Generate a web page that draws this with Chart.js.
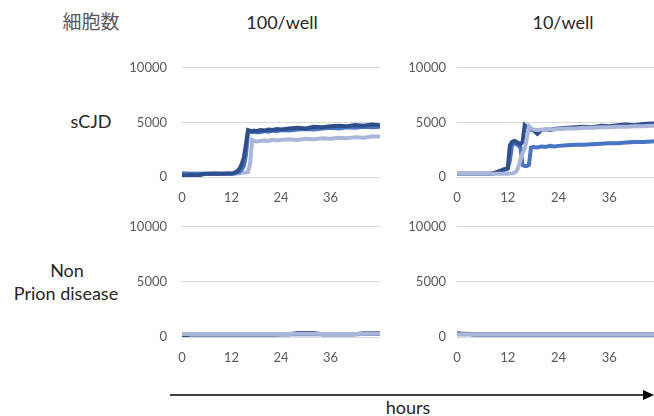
<!DOCTYPE html>
<html>
<head>
<meta charset="utf-8">
<script src="https://cdn.jsdelivr.net/npm/chart.js@4/dist/chart.umd.min.js"></script>
<style>
  html, body { margin: 0; padding: 0; background: #fff; }
  body { width: 654px; height: 416px; position: relative; overflow: hidden; font-family: Lato, sans-serif; }
  canvas { position: absolute; }
  .lbl { position: absolute; transform: translate(-50%, -50%); white-space: nowrap; color: #262626; font-size: 18px; }
</style>
</head>
<body>
<div class="lbl" style="left:91px;top:20px;font-family:'Noto Sans CJK JP';font-size:19px;color:#595959">細胞数</div>
<div class="lbl" style="left:282px;top:22px">100/well</div>
<div class="lbl" style="left:563px;top:22px">10/well</div>
<div class="lbl" style="left:91px;top:121px">sCJD</div>
<div class="lbl" style="left:67px;top:270px">Non</div>
<div class="lbl" style="left:66px;top:293px">Prion disease</div>
<div class="lbl" style="left:408px;top:407px">hours</div>
<svg style="position:absolute;left:0;top:0" width="654" height="416">
  <line x1="170" y1="395" x2="645" y2="395" stroke="#000" stroke-width="1.3"/>
  <polygon points="643,390 654,395 643,400" fill="#000"/>
</svg>

<canvas id="c1" style="left:120px;top:45px"></canvas>
<canvas id="c2" style="left:400px;top:49px"></canvas>
<canvas id="c3" style="left:120px;top:204px"></canvas>
<canvas id="c4" style="left:400px;top:208px"></canvas>

<script>
// time points (hours)
const hours = [0,1,2,3,4,5,6,7,8,9,10,11,12,
  12.5,13,13.5,14,14.5,15,15.5,16,16.5,17,17.5,18,
  19,20,21,22,23,24,
  26,28,30,32,34,36,38,40,42,44,46,48];
const xTicks = [0, 12, 24, 36];
const yTicks = [0, 5000, 10000];

// sCJD, 100/well
const scjd100Dark  = [150,120,180,150,130,250,300,300,310,300,300,310,320,
  350,450,550,800,1200,1800,3000,4300,4250,4200,4250,4200,
  4300,4250,4350,4300,4400,4350,
  4450,4500,4450,4600,4550,4650,4700,4650,4750,4700,4800,4750];
const scjd100Mid   = [300,300,300,300,300,300,300,300,300,300,300,300,300,
  320,350,420,500,700,1000,2000,4100,4150,4100,4150,4100,
  4100,4200,4150,4250,4200,4300,
  4250,4350,4400,4350,4450,4500,4450,4550,4500,4600,4550,4600];
const scjd100Light = [400,350,300,300,300,300,300,300,300,300,300,300,300,
  300,320,330,350,380,400,420,450,1200,3400,3300,3250,
  3300,3350,3300,3400,3350,3400,
  3450,3400,3500,3450,3550,3500,3600,3550,3650,3600,3700,3720];

// sCJD, 10/well
const scjd10Dark  = [300,300,300,300,300,300,300,300,300,400,550,700,800,
  2900,3200,3300,3250,3100,3000,3200,4750,4600,4450,4350,4300,
  3950,4300,4350,4300,4400,4450,
  4500,4550,4600,4550,4700,4650,4750,4800,4750,4850,4900,4900];
const scjd10Mid   = [300,300,300,300,300,300,300,300,300,350,450,600,750,
  1500,2900,3100,3000,2900,2700,1100,1000,1000,1100,2700,2750,
  2700,2800,2750,2850,2800,2850,
  2900,2950,2950,3000,3050,3100,3100,3150,3200,3200,3250,3300];
const scjd10Light = [300,300,300,300,300,300,300,300,300,300,300,300,300,
  310,330,380,500,900,1600,2200,2600,3500,4650,4450,4350,
  4300,4350,4300,4400,4350,4400,
  4450,4450,4500,4500,4550,4550,4600,4600,4650,4650,4700,4700];

// Non prion disease, 100/well
const non100Dark  = [80,150,230,230,230,230,230,230,230,230,230,230,230,
  230,230,230,230,230,230,230,230,230,230,230,230,
  230,230,230,230,230,240,
  250,360,370,360,250,240,240,250,250,340,350,350];
const non100Mid   = [250,250,250,250,250,250,250,250,250,250,250,250,250,
  250,250,250,250,250,250,250,250,250,250,250,250,
  250,250,250,250,250,250,
  250,260,260,260,250,250,250,250,260,270,280,280];
const non100Light = [280,280,270,280,270,280,270,280,270,280,270,280,270,
  280,270,280,270,280,270,280,270,280,270,280,270,
  280,270,280,270,280,270,
  280,290,290,290,280,270,280,270,280,290,300,300];

// Non prion disease, 10/well
const non10Dark  = [330,310,300,280,230,230,230,230,230,230,230,230,230,
  230,230,230,230,230,230,230,230,230,230,230,230,
  230,230,230,230,230,230,
  230,230,230,230,230,230,230,230,230,230,230,230];
const non10Mid   = [260,260,250,250,250,250,250,250,250,250,250,250,250,
  250,250,250,250,250,250,250,250,250,250,250,250,
  250,250,250,250,250,250,
  250,250,250,250,250,250,250,250,250,250,250,250];
const non10Light = [260,260,260,250,260,250,260,250,260,250,260,250,260,
  250,260,250,260,250,260,250,260,250,260,250,260,
  250,260,250,260,250,260,
  250,260,250,260,250,260,250,260,250,260,250,260];

const DARK = '#2F4E8C', MID = '#4874C4', LIGHT = '#A9B6DA';

Chart.defaults.font.family = 'Lato, sans-serif';

// series listed top-most first
function makeChart(id, series, yWidth, yPad, width, height) {
  const cv = document.getElementById(id);
  cv.width = width; cv.height = height;
  return new Chart(cv, {
    type: 'line',
    data: {
      datasets: series.map(s => ({
        data: hours.map((h, i) => ({ x: h, y: s.values[i] })),
        borderColor: s.color,
        borderWidth: 4,
        pointRadius: 0,
        tension: 0,
        fill: false
      }))
    },
    options: {
      responsive: false,
      animation: false,
      layout: { padding: { top: 10, right: 2, left: 0, bottom: 0 } },
      plugins: { legend: { display: false }, tooltip: { enabled: false } },
      scales: {
        x: {
          type: 'linear', min: 0, max: 48,
          afterBuildTicks: s => { s.ticks = xTicks.map(v => ({ value: v })); },
          ticks: { color: '#595959', font: { size: 13 }, padding: 13, maxRotation: 0, autoSkip: false,
                   callback: v => String(v) },
          grid: { display: false, drawTicks: false },
          border: { display: false },
          afterFit: s => { s.height = 30; }
        },
        y: {
          min: 0, max: 10000,
          afterBuildTicks: s => { s.ticks = yTicks.map(v => ({ value: v })); },
          ticks: { color: '#595959', font: { size: 13 }, padding: yPad, callback: v => String(v) },
          grid: { color: '#D9D9D9', drawTicks: false },
          border: { display: false },
          afterFit: s => { s.width = yWidth; }
        }
      }
    }
  });
}

makeChart('c1', [
  { values: scjd100Dark, color: DARK },
  { values: scjd100Mid, color: MID },
  { values: scjd100Light, color: LIGHT }
], 62, 15, 262, 162);

makeChart('c2', [
  { values: scjd10Light, color: LIGHT },
  { values: scjd10Dark, color: DARK },
  { values: scjd10Mid, color: MID }
], 57, 11, 262, 158);

makeChart('c3', [
  { values: non100Light, color: LIGHT },
  { values: non100Dark, color: DARK },
  { values: non100Mid, color: MID }
], 62, 15, 262, 163);

makeChart('c4', [
  { values: non10Light, color: LIGHT },
  { values: non10Dark, color: DARK },
  { values: non10Mid, color: MID }
], 57, 11, 262, 159);
</script>
</body>
</html>
